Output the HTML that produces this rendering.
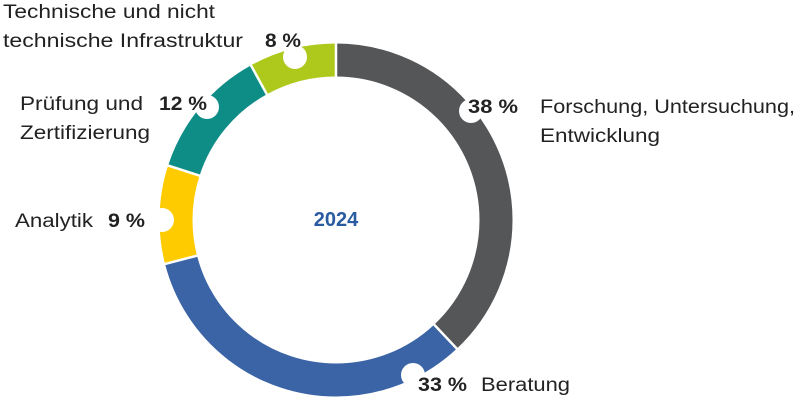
<!DOCTYPE html>
<html><head><meta charset="utf-8"><style>
html,body{margin:0;padding:0;background:#fff;}
svg{display:block;font-family:"Liberation Sans",sans-serif;}
</style></head><body>
<svg width="800" height="400" viewBox="0 0 800 400">
<g fill="none" stroke-width="33" transform="rotate(-90 336 220)">
<circle cx="336" cy="220" r="160" pathLength="100" stroke="#555658" stroke-dasharray="38 62" stroke-dashoffset="0"/>
<circle cx="336" cy="220" r="160" pathLength="100" stroke="#3a64a6" stroke-dasharray="33 67" stroke-dashoffset="-38"/>
<circle cx="336" cy="220" r="160" pathLength="100" stroke="#fecb00" stroke-dasharray="9 91" stroke-dashoffset="-71"/>
<circle cx="336" cy="220" r="160" pathLength="100" stroke="#0e8c86" stroke-dasharray="12 88" stroke-dashoffset="-80"/>
<circle cx="336" cy="220" r="160" pathLength="100" stroke="#aec81c" stroke-dasharray="8 92" stroke-dashoffset="-92"/>
</g>
<g stroke="#fff" stroke-width="2.5">
<line x1="336" y1="80" x2="336" y2="38"/>
<line x1="431.8" y1="322.1" x2="459.2" y2="351.2"/>
<line x1="200.4" y1="254.8" x2="161.7" y2="264.8"/>
<line x1="202.8" y1="176.7" x2="164.8" y2="164.4"/>
<line x1="268.5" y1="97.3" x2="249.3" y2="62.3"/>
</g>
<g fill="#fff">
<circle cx="471" cy="111" r="12"/>
<circle cx="295" cy="57" r="12"/>
<circle cx="207" cy="107" r="12"/>
<circle cx="162" cy="220" r="12"/>
<circle cx="413" cy="375" r="12"/>
</g>
<text x="336" y="226" text-anchor="middle" font-size="20" font-weight="bold" fill="#2a5aa0">2024</text>
<g font-size="19" fill="#222">
<text x="3" y="18" textLength="212" lengthAdjust="spacingAndGlyphs">Technische und nicht</text>
<text x="3" y="47" textLength="240" lengthAdjust="spacingAndGlyphs">technische Infrastruktur</text>
<text x="20" y="110" textLength="123" lengthAdjust="spacingAndGlyphs">Prüfung und</text>
<text x="20" y="139" textLength="130" lengthAdjust="spacingAndGlyphs">Zertifizierung</text>
<text x="15" y="227" textLength="78" lengthAdjust="spacingAndGlyphs">Analytik</text>
<text x="540" y="113" textLength="255" lengthAdjust="spacingAndGlyphs">Forschung, Untersuchung,</text>
<text x="540" y="142" textLength="120" lengthAdjust="spacingAndGlyphs">Entwicklung</text>
<text x="481" y="391" textLength="89" lengthAdjust="spacingAndGlyphs">Beratung</text>
</g>
<g font-size="19" font-weight="bold" fill="#222">
<text x="265" y="47" textLength="36" lengthAdjust="spacingAndGlyphs">8 %</text>
<text x="159" y="110" textLength="48" lengthAdjust="spacingAndGlyphs">12 %</text>
<text x="108" y="227" textLength="37" lengthAdjust="spacingAndGlyphs">9 %</text>
<text x="468" y="113" textLength="50" lengthAdjust="spacingAndGlyphs">38 %</text>
<text x="418" y="391" textLength="49" lengthAdjust="spacingAndGlyphs">33 %</text>
</g>
</svg>
</body></html>
